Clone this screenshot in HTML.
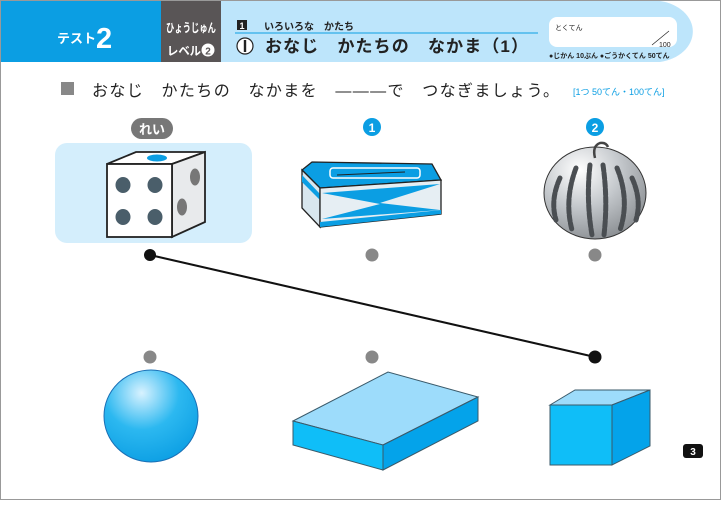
<!DOCTYPE html>
<html><head><meta charset="utf-8"><style>
body{margin:0;width:721px;height:500px;overflow:hidden;background:#fff}
svg text{font-family:"Liberation Sans","Noto Sans CJK JP",sans-serif}
</style></head><body>
<svg width="721" height="500" viewBox="0 0 721 500" xmlns="http://www.w3.org/2000/svg">
<defs>
<radialGradient id="sp" cx="0.4" cy="0.25" r="0.8"><stop offset="0" stop-color="#d8f2ff"/><stop offset="0.5" stop-color="#2cb8f0"/><stop offset="1" stop-color="#0b9ee3"/></radialGradient>
<radialGradient id="wm" cx="0.35" cy="0.25" r="0.8"><stop offset="0" stop-color="#ffffff"/><stop offset="0.5" stop-color="#c4c8cc"/><stop offset="1" stop-color="#8a8e92"/></radialGradient>
</defs>
<rect x="0.5" y="0.5" width="720" height="499" fill="#fff" stroke="#999"/>
<!-- header -->
<path d="M221 1 H660 A40 31 0 0 1 660 62 H221 Z" fill="#bde5fb"/>
<rect x="1" y="1" width="161" height="61" fill="#0b9ee3"/>
<rect x="161" y="1" width="60" height="61" fill="#595556"/>
<text x="57" y="43" fill="#fff" font-size="13" font-weight="bold">テスト</text>
<text x="96" y="48" fill="#fff" font-size="29" font-weight="bold">2</text>
<text x="166" y="32" fill="#fff" font-size="12" font-weight="bold" textLength="50" lengthAdjust="spacingAndGlyphs">ひょうじゅん</text>
<text x="167" y="55" fill="#fff" font-size="12" font-weight="bold" textLength="34" lengthAdjust="spacingAndGlyphs">レベル</text>
<circle cx="208" cy="50" r="6.5" fill="#fff"/><text x="208" y="54.5" font-size="10" font-weight="bold" text-anchor="middle" fill="#595556">2</text>
<rect x="237" y="20" width="10" height="10" fill="#222"/><text x="242" y="29" fill="#fff" font-size="9" font-weight="bold" text-anchor="middle">1</text>
<text x="264" y="30" font-size="10" font-weight="bold" fill="#222">いろいろな　かたち</text>
<line x1="235" y1="33" x2="538" y2="33" stroke="#0b9ee3" stroke-width="1"/>
<circle cx="245" cy="46" r="8" fill="#fff" stroke="#222" stroke-width="1.2"/><rect x="243.8" y="40" width="2.4" height="12" fill="#222"/>
<text x="265" y="52" font-size="17" font-weight="bold" fill="#222" textLength="263">おなじ　かたちの　なかま（1）</text>
<rect x="549" y="17" width="128" height="30" rx="8" fill="#fff"/>
<text x="555" y="30" font-size="7" fill="#222">とくてん</text>
<line x1="652" y1="45" x2="669" y2="31" stroke="#222" stroke-width="0.7"/>
<text x="659" y="47" font-size="7" fill="#222">100</text>
<text x="549" y="58" font-size="7" font-weight="bold" fill="#222">●じかん 10ぷん ●ごうかくてん 50てん</text>
<!-- instruction -->
<rect x="61" y="82" width="13" height="13" fill="#888"/>
<text x="92" y="96" font-size="16" fill="#222" textLength="467">おなじ　かたちの　なかまを　―――で　つなぎましょう。</text>
<text x="573" y="95" font-size="9" fill="#0b9ee3">[1つ 50てん・100てん]</text>
<!-- labels -->
<rect x="131" y="118" width="42" height="21" rx="10.5" fill="#777"/>
<text x="152" y="134" font-size="13" font-weight="bold" fill="#fff" text-anchor="middle">れい</text>
<circle cx="372" cy="127" r="9" fill="#0b9ee3"/><text x="372" y="132" font-size="12" font-weight="bold" fill="#fff" text-anchor="middle">1</text>
<circle cx="595" cy="127" r="9" fill="#0b9ee3"/><text x="595" y="132" font-size="12" font-weight="bold" fill="#fff" text-anchor="middle">2</text>
<!-- dice -->
<rect x="55" y="143" width="197" height="100" rx="12" fill="#d4eefc"/>
<polygon points="107,164 136,152 205,152 172,164" fill="#fff" stroke="#222" stroke-width="1.8"/>
<ellipse cx="157" cy="158" rx="10" ry="3.5" fill="#0b9ee3"/>
<polygon points="172,164 205,152 205,222 172,237" fill="#e8eaec" stroke="#222" stroke-width="1.8"/>
<rect x="107" y="164" width="65" height="73" fill="#fff" stroke="#222" stroke-width="1.8"/>
<g fill="#4a5e6a"><ellipse cx="123" cy="185" rx="7.5" ry="8"/><ellipse cx="155" cy="185" rx="7.5" ry="8"/><ellipse cx="123" cy="217" rx="7.5" ry="8"/><ellipse cx="155" cy="217" rx="7.5" ry="8"/></g>
<g fill="#777"><ellipse cx="195" cy="177" rx="5" ry="8.5"/><ellipse cx="182" cy="207" rx="5" ry="8.5"/></g>
<!-- tissue -->
<polygon points="302,170 312,162 432,164 441,180 320,188" fill="#0b9ee3" stroke="#222" stroke-width="1.3"/>
<rect x="330" y="168" width="90" height="10" rx="3" fill="none" stroke="#fff" stroke-width="1.5"/>
<line x1="337" y1="175" x2="405" y2="172" stroke="#222" stroke-width="1"/>
<polygon points="302,170 320,188 320,227 302,208" fill="#d8e6ee" stroke="#222" stroke-width="1.3"/>
<polygon points="302,175 320,194 320,200 302,182" fill="#0b9ee3"/>
<polygon points="320,188 441,180 441,214 320,227" fill="#e6eef3" stroke="#222" stroke-width="1.3"/>
<polygon points="322,193 440,184 380,203 440,210 322,219 380,204" fill="#0b9ee3"/>
<polygon points="320,222 441,210 441,214 320,227" fill="#0b9ee3"/>
<!-- watermelon -->
<ellipse cx="595" cy="193" rx="51" ry="46" fill="url(#wm)" stroke="#333" stroke-width="1"/>
<g stroke="#4a4e52" stroke-width="5" fill="none" stroke-linecap="round" stroke-dasharray="6 2">
<path d="M590 165 Q586 200 592 235"/><path d="M603 165 Q608 200 604 235"/>
<path d="M576 168 Q564 200 572 230"/><path d="M617 168 Q630 200 620 230"/>
<path d="M560 178 Q550 200 556 220"/><path d="M632 178 Q642 200 636 220"/>
</g>
<path d="M595 158 Q592 146 600 143 Q606 142 608 147" stroke="#444" stroke-width="2.5" fill="none"/>
<!-- dots and line -->
<line x1="150" y1="255" x2="595" y2="357" stroke="#111" stroke-width="2"/>
<circle cx="150" cy="255" r="6" fill="#111"/>
<circle cx="372" cy="255" r="6.5" fill="#888"/>
<circle cx="595" cy="255" r="6.5" fill="#888"/>
<circle cx="150" cy="357" r="6.5" fill="#888"/>
<circle cx="372" cy="357" r="6.5" fill="#888"/>
<circle cx="595" cy="357" r="6.5" fill="#111"/>
<!-- sphere -->
<ellipse cx="151" cy="416" rx="47" ry="46" fill="url(#sp)" stroke="#1a6fb5" stroke-width="1"/>
<!-- slab -->
<polygon points="293,421 388,372 478,397 383,445" fill="#9ddcfb" stroke="#3a5a6a" stroke-width="1"/>
<polygon points="293,421 383,445 383,470 293,445" fill="#0fbef8" stroke="#3a5a6a" stroke-width="1"/>
<polygon points="383,445 478,397 478,421 383,470" fill="#04a3ea" stroke="#3a5a6a" stroke-width="1"/>
<!-- cube -->
<polygon points="550,405 575,390 650,390 612,405" fill="#9ddcfb" stroke="#3a5a6a" stroke-width="1"/>
<rect x="550" y="405" width="62" height="60" fill="#0fbef8" stroke="#3a5a6a" stroke-width="1"/>
<polygon points="612,405 650,390 650,446 612,465" fill="#04a3ea" stroke="#3a5a6a" stroke-width="1"/>
<!-- page num -->
<rect x="683" y="444" width="20" height="14" rx="3" fill="#111"/>
<text x="693" y="455" font-size="10" font-weight="bold" fill="#fff" text-anchor="middle">3</text>
</svg>
</body></html>
